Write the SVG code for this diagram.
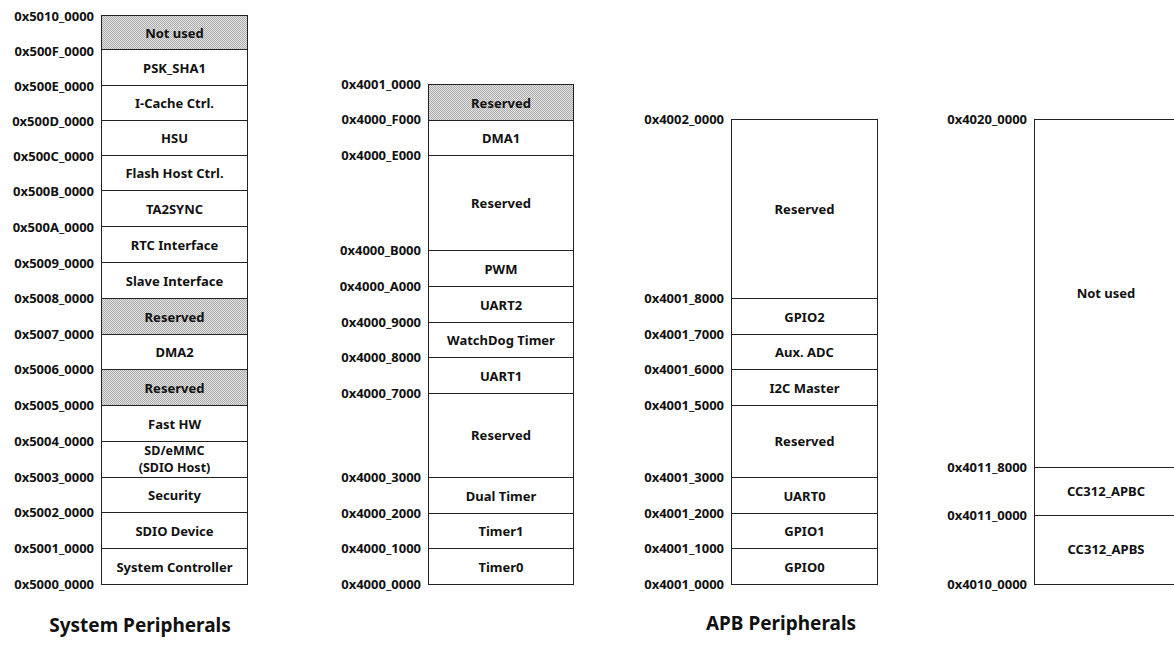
<svg xmlns="http://www.w3.org/2000/svg" width="1174" height="646" viewBox="0 0 1174 646">
<style>
.addr{font-family:"Noto Sans","Liberation Sans",sans-serif;font-weight:bold;font-size:13px;fill:#111;text-anchor:end;dominant-baseline:central}
.lbl{font-family:"Noto Sans","Liberation Sans",sans-serif;font-weight:bold;font-size:13px;fill:#111;text-anchor:middle;dominant-baseline:central}
.lbl2{font-family:"Noto Sans","Liberation Sans",sans-serif;font-weight:bold;font-size:12.5px;fill:#111;text-anchor:middle;dominant-baseline:central}
.title{font-family:"Noto Sans","Liberation Sans",sans-serif;font-weight:bold;font-size:19px;fill:#111;text-anchor:middle}
.cell{fill:#fff;stroke:#222;stroke-width:1}
.hatch{fill:url(#dots);stroke:#222;stroke-width:1}
</style>
<defs>
<pattern id="dots" width="2" height="2" patternUnits="userSpaceOnUse">
<rect width="2" height="2" fill="#e4e4e4"/>
<rect width="1" height="1" fill="#ababab"/>
<rect x="1" y="1" width="1" height="1" fill="#ababab"/>
</pattern>
</defs>
<rect width="1174" height="646" fill="#fff"/>

<g id="system-peripherals">
<g id="sp-notused"><rect class="hatch" x="101.5" y="15.5" width="146" height="34"/><text class="lbl" x="174.5" y="32.5">Not used</text></g>
<g id="sp-psk"><rect class="cell" x="101.5" y="49.5" width="146" height="36"/><text class="lbl" x="174.5" y="67.5">PSK_SHA1</text></g>
<g id="sp-icache"><rect class="cell" x="101.5" y="85.5" width="146" height="35"/><text class="lbl" x="174.5" y="103">I-Cache Ctrl.</text></g>
<g id="sp-hsu"><rect class="cell" x="101.5" y="120.5" width="146" height="35"/><text class="lbl" x="174.5" y="138">HSU</text></g>
<g id="sp-flash"><rect class="cell" x="101.5" y="155.5" width="146" height="35"/><text class="lbl" x="174.5" y="173">Flash Host Ctrl.</text></g>
<g id="sp-ta2sync"><rect class="cell" x="101.5" y="190.5" width="146" height="36"/><text class="lbl" x="174.5" y="208.5">TA2SYNC</text></g>
<g id="sp-rtc"><rect class="cell" x="101.5" y="226.5" width="146" height="36"/><text class="lbl" x="174.5" y="244.5">RTC Interface</text></g>
<g id="sp-slave"><rect class="cell" x="101.5" y="262.5" width="146" height="36"/><text class="lbl" x="174.5" y="280.5">Slave Interface</text></g>
<g id="sp-res1"><rect class="hatch" x="101.5" y="298.5" width="146" height="36"/><text class="lbl" x="174.5" y="316.5">Reserved</text></g>
<g id="sp-dma2"><rect class="cell" x="101.5" y="334.5" width="146" height="35"/><text class="lbl" x="174.5" y="352">DMA2</text></g>
<g id="sp-res2"><rect class="hatch" x="101.5" y="369.5" width="146" height="36"/><text class="lbl" x="174.5" y="387.5">Reserved</text></g>
<g id="sp-fasthw"><rect class="cell" x="101.5" y="405.5" width="146" height="36"/><text class="lbl" x="174.5" y="423.5">Fast HW</text></g>
<g id="sp-sdemmc"><rect class="cell" x="101.5" y="441.5" width="146" height="36"/><text class="lbl2" x="174.5" y="450.5">SD/eMMC</text><text class="lbl2" x="174.5" y="467">(SDIO Host)</text></g>
<g id="sp-security"><rect class="cell" x="101.5" y="477.5" width="146" height="35"/><text class="lbl" x="174.5" y="495">Security</text></g>
<g id="sp-sdiodev"><rect class="cell" x="101.5" y="512.5" width="146" height="36"/><text class="lbl" x="174.5" y="530.5">SDIO Device</text></g>
<g id="sp-sysctrl"><rect class="cell" x="101.5" y="548.5" width="146" height="36"/><text class="lbl" x="174.5" y="566.5">System Controller</text></g>
<g id="sp-addr">
<text class="addr" x="94" y="16">0x5010_0000</text>
<text class="addr" x="94" y="51">0x500F_0000</text>
<text class="addr" x="94" y="86">0x500E_0000</text>
<text class="addr" x="94" y="121">0x500D_0000</text>
<text class="addr" x="94" y="156">0x500C_0000</text>
<text class="addr" x="94" y="191">0x500B_0000</text>
<text class="addr" x="94" y="227">0x500A_0000</text>
<text class="addr" x="94" y="263">0x5009_0000</text>
<text class="addr" x="94" y="298">0x5008_0000</text>
<text class="addr" x="94" y="334">0x5007_0000</text>
<text class="addr" x="94" y="369">0x5006_0000</text>
<text class="addr" x="94" y="405">0x5005_0000</text>
<text class="addr" x="94" y="441">0x5004_0000</text>
<text class="addr" x="94" y="477">0x5003_0000</text>
<text class="addr" x="94" y="512">0x5002_0000</text>
<text class="addr" x="94" y="548">0x5001_0000</text>
<text class="addr" x="94" y="584">0x5000_0000</text>
</g>
<text class="title" x="140" y="632">System Peripherals</text>
</g>

<g id="apb-col1">
<g id="a1-res-top"><rect class="hatch" x="428.5" y="84.5" width="145" height="36"/><text class="lbl" x="501" y="102.5">Reserved</text></g>
<g id="a1-dma1"><rect class="cell" x="428.5" y="120.5" width="145" height="35"/><text class="lbl" x="501" y="138">DMA1</text></g>
<g id="a1-res-mid"><rect class="cell" x="428.5" y="155.5" width="145" height="95"/><text class="lbl" x="501" y="203">Reserved</text></g>
<g id="a1-pwm"><rect class="cell" x="428.5" y="250.5" width="145" height="36"/><text class="lbl" x="501" y="268.5">PWM</text></g>
<g id="a1-uart2"><rect class="cell" x="428.5" y="286.5" width="145" height="36"/><text class="lbl" x="501" y="304.5">UART2</text></g>
<g id="a1-wdt"><rect class="cell" x="428.5" y="322.5" width="145" height="35"/><text class="lbl" x="501" y="340">WatchDog Timer</text></g>
<g id="a1-uart1"><rect class="cell" x="428.5" y="357.5" width="145" height="36"/><text class="lbl" x="501" y="375.5">UART1</text></g>
<g id="a1-res-low"><rect class="cell" x="428.5" y="393.5" width="145" height="84"/><text class="lbl" x="501" y="435">Reserved</text></g>
<g id="a1-dual"><rect class="cell" x="428.5" y="477.5" width="145" height="36"/><text class="lbl" x="501" y="495.5">Dual Timer</text></g>
<g id="a1-timer1"><rect class="cell" x="428.5" y="513.5" width="145" height="35"/><text class="lbl" x="501" y="531">Timer1</text></g>
<g id="a1-timer0"><rect class="cell" x="428.5" y="548.5" width="145" height="36"/><text class="lbl" x="501" y="566.5">Timer0</text></g>
<g id="a1-addr">
<text class="addr" x="421" y="84">0x4001_0000</text>
<text class="addr" x="421" y="119">0x4000_F000</text>
<text class="addr" x="421" y="155">0x4000_E000</text>
<text class="addr" x="421" y="250">0x4000_B000</text>
<text class="addr" x="421" y="286">0x4000_A000</text>
<text class="addr" x="421" y="322">0x4000_9000</text>
<text class="addr" x="421" y="357">0x4000_8000</text>
<text class="addr" x="421" y="393">0x4000_7000</text>
<text class="addr" x="421" y="477">0x4000_3000</text>
<text class="addr" x="421" y="513">0x4000_2000</text>
<text class="addr" x="421" y="548">0x4000_1000</text>
<text class="addr" x="421" y="584">0x4000_0000</text>
</g>
</g>

<g id="apb-col2">
<g id="a2-res-top"><rect class="cell" x="731.5" y="119.5" width="146" height="179"/><text class="lbl" x="804.5" y="209">Reserved</text></g>
<g id="a2-gpio2"><rect class="cell" x="731.5" y="298.5" width="146" height="36"/><text class="lbl" x="804.5" y="316.5">GPIO2</text></g>
<g id="a2-adc"><rect class="cell" x="731.5" y="334.5" width="146" height="35"/><text class="lbl" x="804.5" y="352">Aux. ADC</text></g>
<g id="a2-i2c"><rect class="cell" x="731.5" y="369.5" width="146" height="36"/><text class="lbl" x="804.5" y="387.5">I2C Master</text></g>
<g id="a2-res-low"><rect class="cell" x="731.5" y="405.5" width="146" height="72"/><text class="lbl" x="804.5" y="441">Reserved</text></g>
<g id="a2-uart0"><rect class="cell" x="731.5" y="477.5" width="146" height="36"/><text class="lbl" x="804.5" y="495.5">UART0</text></g>
<g id="a2-gpio1"><rect class="cell" x="731.5" y="513.5" width="146" height="35"/><text class="lbl" x="804.5" y="531">GPIO1</text></g>
<g id="a2-gpio0"><rect class="cell" x="731.5" y="548.5" width="146" height="36"/><text class="lbl" x="804.5" y="566.5">GPIO0</text></g>
<g id="a2-addr">
<text class="addr" x="724" y="119">0x4002_0000</text>
<text class="addr" x="724" y="298">0x4001_8000</text>
<text class="addr" x="724" y="334">0x4001_7000</text>
<text class="addr" x="724" y="369">0x4001_6000</text>
<text class="addr" x="724" y="405">0x4001_5000</text>
<text class="addr" x="724" y="477">0x4001_3000</text>
<text class="addr" x="724" y="513">0x4001_2000</text>
<text class="addr" x="724" y="548">0x4001_1000</text>
<text class="addr" x="724" y="584">0x4001_0000</text>
</g>
<text class="title" x="781" y="630">APB Peripherals</text>
</g>

<g id="apb-col3">
<g id="a3-notused"><rect class="cell" x="1034.5" y="119.5" width="146" height="348"/><text class="lbl" x="1106" y="293">Not used</text></g>
<g id="a3-apbc"><rect class="cell" x="1034.5" y="467.5" width="146" height="48"/><text class="lbl" x="1106" y="491">CC312_APBC</text></g>
<g id="a3-apbs"><rect class="cell" x="1034.5" y="515.5" width="146" height="69"/><text class="lbl" x="1106" y="549">CC312_APBS</text></g>
<g id="a3-addr">
<text class="addr" x="1027" y="119">0x4020_0000</text>
<text class="addr" x="1027" y="467">0x4011_8000</text>
<text class="addr" x="1027" y="515">0x4011_0000</text>
<text class="addr" x="1027" y="584">0x4010_0000</text>
</g>
</g>

<g id="connectors"></g>
</svg>
